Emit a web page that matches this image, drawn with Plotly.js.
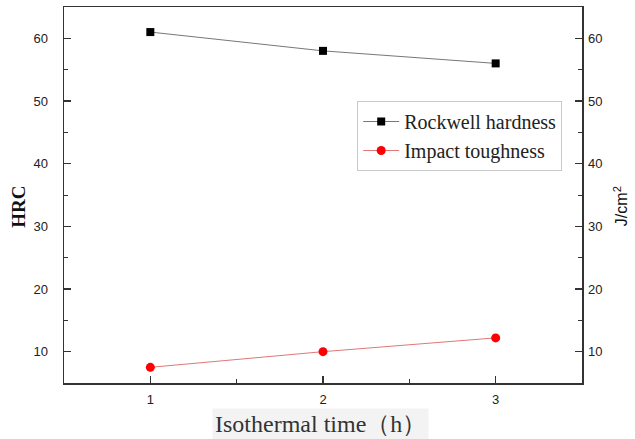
<!DOCTYPE html>
<html>
<head>
<meta charset="utf-8">
<script src="https://cdn.plot.ly/plotly-3.0.1.min.js"></script>
<style>html,body{margin:0;padding:0;background:#fff;}#chart{width:635px;height:439px;}</style>
</head>
<body>
<div id="chart"></div>
<script>
var isothermalTime = [1, 2, 3];
var rockwellHardness = [61, 58, 56];
var impactToughness = [7.5, 10, 12.2];
var xTickVals = [1, 2, 3];
var yTickVals = [10, 20, 30, 40, 50, 60];

var axisCommon = {
  showgrid: false, zeroline: false,
  showline: true, linecolor: '#333', linewidth: 1.5,
  ticks: 'inside', ticklen: 7, tickwidth: 1.2, tickcolor: '#333',
  tickfont: {family: 'Arial, Liberation Sans, sans-serif', size: 13, color: '#222'}
};

var traces = [
  {x: isothermalTime, y: rockwellHardness, name: 'Rockwell hardness', type: 'scatter', mode: 'lines+markers',
   line: {color: '#777', width: 1}, marker: {symbol: 'square', size: 8, color: '#000'}, yaxis: 'y'},
  {x: isothermalTime, y: impactToughness, name: 'Impact toughness', type: 'scatter', mode: 'lines+markers',
   line: {color: '#e07878', width: 1}, marker: {symbol: 'circle', size: 9, color: '#ff0000'}, yaxis: 'y2'}
];

var layout = {
  width: 635, height: 439,
  margin: {l: 64, r: 53, t: 7, b: 56},
  paper_bgcolor: '#fff', plot_bgcolor: '#fff',
  showlegend: true,
  legend: {x: 0.566, y: 0.75, xanchor: 'left', yanchor: 'top',
    bgcolor: '#fff', bordercolor: '#c8c8c8', borderwidth: 1,
    font: {family: 'Liberation Serif, Times New Roman, serif', size: 20, color: '#222'},
    tracegroupgap: 0, itemwidth: 36},
  xaxis: Object.assign({}, axisCommon, {range: [0.5, 3.5], tickvals: xTickVals, mirror: true,
    ticklabelstandoff: 4,
    minor: {ticks: 'inside', ticklen: 4, dtick: 0.5, tick0: 0.5, tickcolor: '#333', tickwidth: 1}}),
  yaxis: Object.assign({}, axisCommon, {range: [5, 65], tickvals: yTickVals, ticklabelstandoff: 12,
    minor: {ticks: 'inside', ticklen: 4, dtick: 5, tick0: 5, tickcolor: '#333', tickwidth: 1}}),
  yaxis2: Object.assign({}, axisCommon, {range: [5, 65], tickvals: yTickVals, overlaying: 'y', side: 'right',
    ticklabelstandoff: 2,
    minor: {ticks: 'inside', ticklen: 4, dtick: 5, tick0: 5, tickcolor: '#333', tickwidth: 1}}),
  annotations: [
    {text: 'Isothermal time（h）', xref: 'paper', yref: 'paper', x: 0.495, y: -0.109, xanchor: 'center', yanchor: 'middle',
     showarrow: false, bgcolor: '#f3f3f3', borderpad: 2,
     font: {family: 'Liberation Serif, Times New Roman, serif', size: 24, color: '#333'}},
    {text: '<b>HRC</b>', xref: 'paper', yref: 'paper', x: -0.088, y: 0.47, xanchor: 'center', yanchor: 'middle',
     textangle: -90, showarrow: false,
     font: {family: 'Liberation Serif, Times New Roman, serif', size: 19, color: '#111'}},
    {text: 'J/cm<sup>2</sup>', xref: 'paper', yref: 'paper', x: 1.075, y: 0.47, xanchor: 'center', yanchor: 'middle',
     textangle: -90, showarrow: false,
     font: {family: 'Arial, Liberation Sans, sans-serif', size: 16, color: '#111'}}
  ]
};

Plotly.newPlot('chart', traces, layout, {displayModeBar: false, staticPlot: true});
</script>
</body>
</html>
